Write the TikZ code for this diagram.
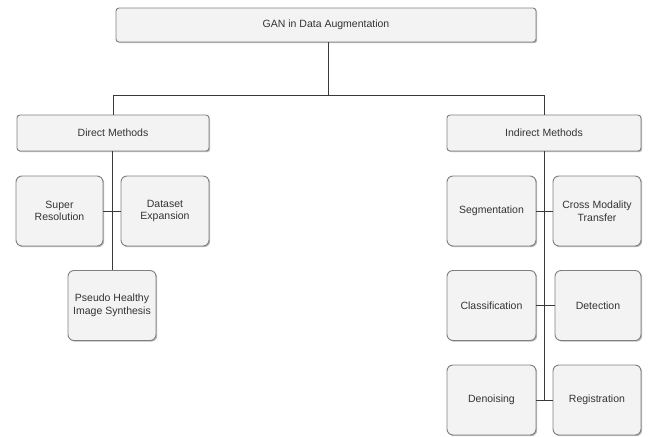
\documentclass[tikz,border=0pt]{standalone}
\usepackage{fontspec}
\setmainfont{Liberation Sans}
\usetikzlibrary{shadows}
\definecolor{boxfill}{HTML}{F3F3F3}
\definecolor{boxline}{HTML}{7F7F7F}
\definecolor{conn}{HTML}{3A3A3A}
\tikzset{
  base/.style={draw=boxline, line width=0.9pt, fill=boxfill, align=center,
    font=\fontsize{10.5}{12.5}\selectfont, text=black!80, inner sep=0pt,
    drop shadow={shadow xshift=1.2pt, shadow yshift=-1.2pt, fill=black!45, opacity=0.6}},
  headbox/.style={base, rounded corners=3pt},
  leafbox/.style={base, rounded corners=6pt, minimum width=88pt, minimum height=70pt},
  wire/.style={draw=conn, line width=0.9pt}
}
\begin{document}
\begin{tikzpicture}[x=1pt,y=-1pt]
\useasboundingbox (0,0) rectangle (649,437);
% headers
\node[headbox, minimum width=420pt, minimum height=34pt] (gan) at (326,25) {GAN in Data Augmentation};
\node[headbox, minimum width=192pt, minimum height=36pt] (direct) at (113,133) {Direct Methods};
\node[headbox, minimum width=194pt, minimum height=36pt] (indirect) at (544,133) {Indirect Methods};
% direct leaves
\node[leafbox, minimum width=87pt] (sr) at (59.5,211) {Super\\Resolution};
\node[leafbox] (de) at (165,211) {Dataset\\Expansion};
\node[leafbox] (ph) at (112,305.5) {Pseudo Healthy\\Image Synthesis};
% indirect leaves
\node[leafbox, minimum width=89pt] (seg) at (491.5,211) {Segmentation};
\node[leafbox] (cmt) at (597,211) {Cross Modality\\Transfer};
\node[leafbox, minimum width=89pt] (cls) at (491.5,305.5) {Classification};
\node[leafbox, minimum width=86pt] (det) at (598,305.5) {Detection};
\node[leafbox, minimum width=89pt] (den) at (491.5,400) {Denoising};
\node[leafbox] (reg) at (597,400) {Registration};
% connectors
\coordinate (bar) at (328,95);
\draw[wire] (gan.south -| bar) -- (bar);
\draw[wire] (direct.north) -- (direct.north |- bar) -- (indirect.north |- bar) -- (indirect.north);
\coordinate (dj) at (112,210);
\draw[wire] (direct.south -| dj) -- (ph.north -| dj);
\draw[wire] (sr.east) -- (de.west);
\coordinate (ij) at (544,210);
\draw[wire] (indirect.south -| ij) -- (ij |- den.east);
\draw[wire] (seg.east) -- (cmt.west);
\draw[wire] (cls.east) -- (det.west);
\draw[wire] (den.east) -- (reg.west);
\end{tikzpicture}
\end{document}
